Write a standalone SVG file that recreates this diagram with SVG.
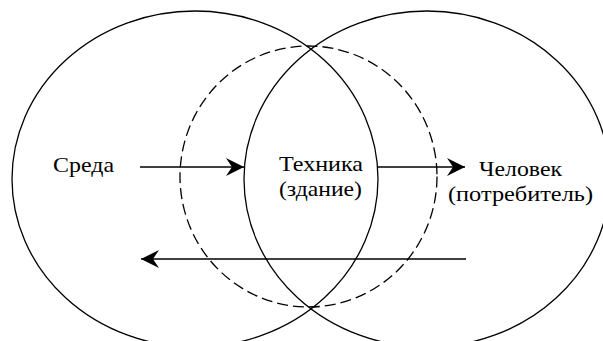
<svg xmlns="http://www.w3.org/2000/svg" width="603" height="341" viewBox="0 0 603 341">
  <defs>
    <marker id="arr" viewBox="0 0 18 18" refX="18" refY="9" markerWidth="18" markerHeight="18" markerUnits="userSpaceOnUse" orient="auto">
      <path d="M0,0 L18,9 L0,18 L6,9 Z" fill="#000"/>
    </marker>
  </defs>
  <style>
    .c { fill: none; stroke: #000; stroke-width: 1.3; }
    .d { fill: none; stroke: #000; stroke-width: 1.3; stroke-dasharray: 11 5; }
    .a { fill: none; stroke: #000; stroke-width: 1.6; marker-end: url(#arr); }
    text { font-family: "Liberation Serif", "Times New Roman", serif; font-size: 21px; fill: #000; }
  </style>
  <rect width="603" height="341" fill="#fff"/>
  <g id="sreda-circle"><ellipse class="c" cx="195" cy="179" rx="183" ry="168"/></g>
  <g id="chelovek-circle"><ellipse class="c" cx="427" cy="179" rx="183" ry="168"/></g>
  <g id="tehnika-circle"><ellipse class="d" cx="308.5" cy="176.5" rx="128.5" ry="130.5"/></g>
  <g id="sreda"><text x="53" y="172" textLength="61" lengthAdjust="spacingAndGlyphs">Среда</text></g>
  <g id="tehnika">
    <text x="279" y="171" textLength="84" lengthAdjust="spacingAndGlyphs">Техника</text>
    <text x="279" y="196" textLength="83" lengthAdjust="spacingAndGlyphs">(здание)</text>
  </g>
  <g id="chelovek">
    <text x="479" y="176" textLength="83" lengthAdjust="spacingAndGlyphs">Человек</text>
    <text x="448" y="201" textLength="145" lengthAdjust="spacingAndGlyphs">(потребитель)</text>
  </g>
  <g id="connectors">
    <line class="a" x1="140" y1="167" x2="244" y2="167"/>
    <line class="a" x1="378" y1="167" x2="465" y2="167"/>
    <line class="a" x1="466" y1="259" x2="141" y2="259"/>
  </g>
</svg>
